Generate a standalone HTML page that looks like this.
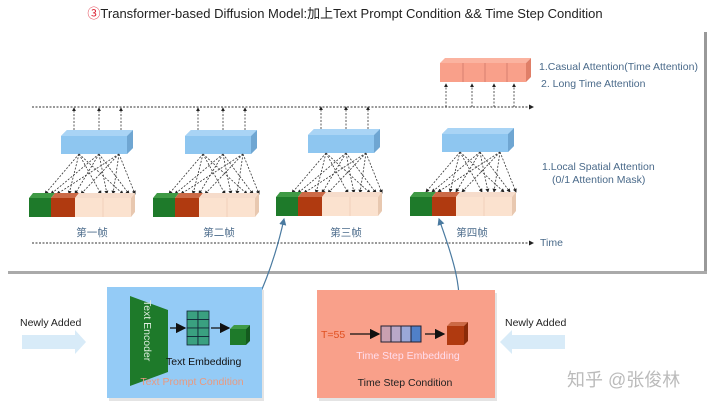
<!DOCTYPE html>
<html><head><meta charset="utf-8"><style>
body{margin:0;background:#fff;}
svg{display:block;font-family:"Liberation Sans","Noto Sans CJK SC",sans-serif;}
</style></head><body>
<svg width="720" height="408" viewBox="0 0 720 408">
<defs>
<marker id="ah" markerWidth="5" markerHeight="5" refX="4" refY="2.5" orient="auto"><path d="M0,0L5,2.5L0,5z" fill="#222"/></marker>
<marker id="ab" markerWidth="8" markerHeight="8" refX="7" refY="4" orient="auto"><path d="M0,0L8,4L0,8z" fill="#111"/></marker>
<marker id="abl" markerWidth="6" markerHeight="6" refX="5" refY="3" orient="auto"><path d="M0,0L6,3L0,6z" fill="#4a7aa0"/></marker>
<g id="blue">
<path d="M0,6L6,0L72,0L72,18L66,24L0,24z" fill="#8ec6f0"/>
<path d="M66,6L72,0L72,18L66,24z" fill="#6fa6d2"/>
<path d="M0,6L6,0L72,0L66,6z" fill="#a9d4f5"/>
</g>
<g id="tok">
<rect x="0" y="5" width="22" height="19" fill="#1e7a2a"/>
<path d="M0,5L4,0L26,0L22,5z" fill="#3f9a45"/>
<rect x="22" y="5" width="24" height="19" fill="#b03a10"/>
<path d="M22,5L26,0L50,0L46,5z" fill="#cc6a46"/>
<rect x="46" y="5" width="56" height="19" fill="#fbe2cf"/>
<path d="M46,5L50,0L106,0L102,5z" fill="#f6dccb"/>
<path d="M102,5L106,0L106,19L102,24z" fill="#e8c8b0"/>
<line x1="74" y1="5" x2="74" y2="24" stroke="#f0d0bb"/>
</g>
<g id="fan" stroke="#333" stroke-width="0.8" stroke-dasharray="2,1.5" marker-end="url(#ah)" fill="none">
<line x1="18" y1="0" x2="-16" y2="40"/><line x1="18" y1="0" x2="8" y2="40"/><line x1="18" y1="0" x2="40" y2="40"/><line x1="18" y1="0" x2="62" y2="40"/>
<line x1="38" y1="0" x2="-10" y2="40"/><line x1="38" y1="0" x2="14" y2="40"/><line x1="38" y1="0" x2="46" y2="40"/><line x1="38" y1="0" x2="68" y2="40"/>
<line x1="58" y1="0" x2="-4" y2="40"/><line x1="58" y1="0" x2="20" y2="40"/><line x1="58" y1="0" x2="52" y2="40"/><line x1="58" y1="0" x2="74" y2="40"/>
</g>
<g id="up" stroke="#333" stroke-width="0.8" stroke-dasharray="2,1.5" marker-end="url(#ah)">
<line x1="13" y1="0" x2="13" y2="-22"/><line x1="38" y1="0" x2="38" y2="-22"/><line x1="60" y1="0" x2="60" y2="-22"/>
</g>
</defs>
<text x="345" y="18" text-anchor="middle" font-size="13" fill="#222"><tspan fill="#d23">③</tspan>Transformer-based Diffusion Model:加上Text Prompt Condition &amp;&amp; Time Step Condition</text>
<rect x="0" y="30" width="704" height="241" fill="#fff"/>
<rect x="704" y="32" width="3" height="241" fill="#999"/>
<rect x="8" y="271" width="699" height="3" fill="#aaa"/>
<line x1="32" y1="107" x2="533" y2="107" stroke="#333" stroke-dasharray="2,1.5" marker-end="url(#ah)"/>
<line x1="32" y1="243" x2="533" y2="243" stroke="#333" stroke-dasharray="2,1.5" marker-end="url(#ah)"/>
<text x="540" y="246" font-size="10.5" fill="#4a6a8a">Time</text>
<g>
<rect x="440" y="63" width="86" height="19" fill="#f9a08a"/>
<path d="M440,63L445,58L531,58L526,63z" fill="#fbb3a0"/>
<path d="M526,63L531,58L531,77L526,82z" fill="#e07f68"/>
<g stroke="#d88070"><line x1="463" y1="63" x2="463" y2="82"/><line x1="485" y1="63" x2="485" y2="82"/><line x1="507" y1="63" x2="507" y2="82"/></g>
</g>
<g stroke="#333" stroke-width="0.8" stroke-dasharray="2,1.5" marker-end="url(#ah)">
<line x1="446" y1="107" x2="446" y2="84"/><line x1="472" y1="107" x2="472" y2="84"/><line x1="494" y1="107" x2="494" y2="84"/><line x1="514" y1="107" x2="514" y2="84"/>
</g>
<text x="539" y="70" font-size="10.5" fill="#4a6a8a">1.Casual Attention(Time Attention)</text>
<text x="541" y="87" font-size="10.5" fill="#4a6a8a">2. Long Time Attention</text>
<text x="542" y="170" font-size="10.5" fill="#4a6a8a">1.Local Spatial Attention</text>
<text x="552" y="183" font-size="10.5" fill="#4a6a8a">(0/1 Attention Mask)</text>
<g transform="translate(61,130)"><use href="#blue"/><use href="#up"/><use href="#fan" y="24"/></g>
<g transform="translate(185,130)"><use href="#blue"/><use href="#up"/><use href="#fan" y="24"/></g>
<g transform="translate(308,129)"><use href="#blue"/><use href="#up"/><use href="#fan" y="24"/></g>
<g transform="translate(442,128)"><use href="#blue"/><use href="#fan" y="24"/></g>
<use href="#tok" x="29" y="193"/>
<use href="#tok" x="153" y="193"/>
<use href="#tok" x="276" y="192"/>
<use href="#tok" x="410" y="192"/>
<g font-size="10.5" fill="#4a6a8a" text-anchor="middle">
<text x="92" y="236">第一帧</text><text x="219" y="236">第二帧</text><text x="346" y="236">第三帧</text><text x="472" y="236">第四帧</text>
</g>
<path d="M243,325 C260,300 275,260 284,219" fill="none" stroke="#4a7aa0" stroke-width="1.2" marker-end="url(#abl)"/>
<path d="M457,322 C465,290 450,250 439,219" fill="none" stroke="#4a7aa0" stroke-width="1.2" marker-end="url(#abl)"/>
<rect x="109" y="290" width="155" height="111" fill="#e4e4e4"/>
<rect x="107" y="287" width="155" height="111" fill="#94cbf6"/>
<path d="M130,296L168,310L168,372L130,386z" fill="#1e7a2a"/>
<text transform="translate(144,300) rotate(90)" font-size="10.5" fill="#e0eee0">Text Encoder</text>
<line x1="170" y1="328" x2="185" y2="328" stroke="#111" stroke-width="1.3" marker-end="url(#ab)"/>
<g fill="#3aa080" stroke="#123" stroke-width="0.8">
<rect x="187" y="311" width="11" height="8.5"/><rect x="198" y="311" width="11" height="8.5"/>
<rect x="187" y="319.5" width="11" height="8.5"/><rect x="198" y="319.5" width="11" height="8.5"/>
<rect x="187" y="328" width="11" height="8.5"/><rect x="198" y="328" width="11" height="8.5"/>
<rect x="187" y="336.5" width="11" height="8.5"/><rect x="198" y="336.5" width="11" height="8.5"/>
</g>
<line x1="211" y1="328" x2="229" y2="328" stroke="#111" stroke-width="1.3" marker-end="url(#ab)"/>
<rect x="230" y="329" width="16" height="16" fill="#1e7a2a"/><path d="M230,329L234,325L250,325L246,329z" fill="#3f9a45"/><path d="M246,329L250,325L250,341L246,345z" fill="#145a1e"/>
<text x="166" y="365" font-size="10.5" fill="#111">Text Embedding</text>
<text x="192" y="385" font-size="10.5" fill="#e89a80" text-anchor="middle">Text Prompt Condition</text>
<rect x="319" y="293" width="178" height="108" fill="#e4e4e4"/>
<rect x="317" y="290" width="178" height="108" fill="#f9a08a"/>
<text x="321" y="338" font-size="10.5" fill="#e05020">T=55</text>
<line x1="350" y1="334" x2="379" y2="334" stroke="#111" stroke-width="1.3" marker-end="url(#ab)"/>
<g stroke="#223" stroke-width="1"><rect x="381" y="326" width="10" height="16" fill="#c9a0b0"/><rect x="391" y="326" width="10" height="16" fill="#b8a8c8"/><rect x="401" y="326" width="10" height="16" fill="#9aa8d8"/><rect x="411" y="326" width="10" height="16" fill="#5080c8"/></g>
<line x1="425" y1="334" x2="444" y2="334" stroke="#111" stroke-width="1.3" marker-end="url(#ab)"/>
<rect x="447" y="326" width="17" height="19" fill="#b03a10"/><path d="M447,326L451,322L468,322L464,326z" fill="#cc6a46"/><path d="M464,326L468,322L468,341L464,345z" fill="#8a2a08"/>
<text x="408" y="359" font-size="10.5" fill="#fde" text-anchor="middle">Time Step Embedding</text>
<text x="405" y="386" font-size="10.5" fill="#222" text-anchor="middle">Time Step Condition</text>
<text x="20" y="326" font-size="10.5" fill="#222">Newly Added</text>
<path d="M22,335L75,335L75,330L86,342L75,354L75,349L22,349z" fill="#d8ebf8"/>
<text x="505" y="326" font-size="10.5" fill="#222">Newly Added</text>
<path d="M565,335L512,335L512,330L500,342L512,354L512,349L565,349z" fill="#d8ebf8"/>
<text x="567" y="386" font-size="18" fill="#bbb">知乎 @张俊林</text>
</svg>
</body></html>
